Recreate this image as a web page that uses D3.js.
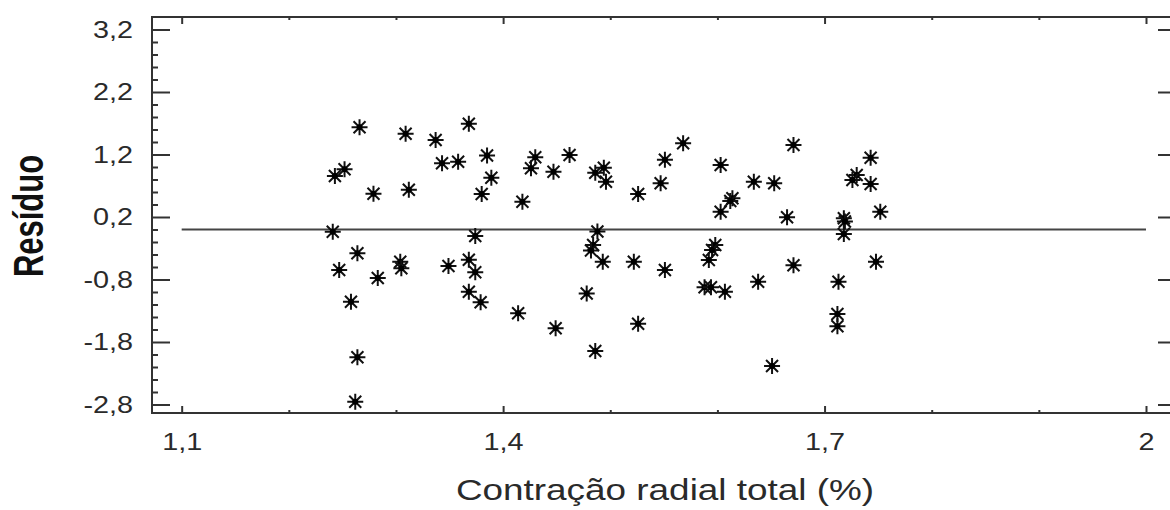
<!DOCTYPE html>
<html>
<head>
<meta charset="utf-8">
<script src="https://cdn.jsdelivr.net/npm/d3@7"></script>
<style>
  body { margin: 0; background: #fff; }
  text { font-family: "Liberation Sans", Arial, sans-serif; }
</style>
</head>
<body>
<div id="chart"></div>
<script>
// contração radial total (%) and resíduo
const contracao = [
  1.266, 1.309, 1.252, 1.243, 1.279, 1.312, 1.241, 1.264, 1.247, 1.304,
  1.305, 1.283, 1.258, 1.264, 1.262, 1.368, 1.337, 1.343, 1.358, 1.385,
  1.389, 1.380, 1.374, 1.349, 1.368, 1.374, 1.368, 1.379, 1.414, 1.430,
  1.426, 1.447, 1.462, 1.418, 1.449, 1.478, 1.486, 1.494, 1.496, 1.488,
  1.484, 1.482, 1.493, 1.486, 1.526, 1.547, 1.551, 1.568, 1.522, 1.551,
  1.526, 1.603, 1.634, 1.653, 1.671, 1.614, 1.612, 1.603, 1.665, 1.598,
  1.595, 1.592, 1.588, 1.594, 1.607, 1.638, 1.671, 1.651, 1.743, 1.730,
  1.726, 1.743, 1.752, 1.718, 1.719, 1.718, 1.748, 1.713, 1.712, 1.712
];
const residuo = [
  1.635, 1.533, 0.963, 0.856, 0.573, 0.637, -0.035, -0.381, -0.648, -0.515,
  -0.621, -0.776, -1.155, -2.045, -2.755, 1.693, 1.432, 1.059, 1.085, 1.184,
  0.829, 0.568, -0.104, -0.584, -0.483, -0.685, -0.995, -1.165, -1.341, 1.155,
  0.979, 0.925, 1.192, 0.445, -1.581, -1.024, 0.909, 0.989, 0.765, -0.032,
  -0.248, -0.336, -0.515, -1.944, 0.568, 0.739, 1.117, 1.379, -0.515, -0.648,
  -1.507, 1.032, 0.765, 0.739, 1.352, 0.499, 0.456, 0.285, 0.195, -0.248,
  -0.328, -0.488, -0.925, -0.925, -0.995, -0.835, -0.573, -2.184, 1.149, 0.872,
  0.792, 0.728, 0.285, 0.179, 0.128, -0.072, -0.515, -0.835, -1.352, -1.549
];
const yTicks = [3.2, 2.2, 1.2, 0.2, -0.8, -1.8, -2.8];
const xTicks = [1.1, 1.4, 1.7, 2.0];
const xLabel = "Contração radial total (%)";
const yLabel = "Resíduo";

const width = 1170, height = 510;
const margin = { top: 17, right: -6, bottom: 97, left: 152 };
const stretch = 1.2; // the original text is a bit wide

const svg = d3.select("#chart").append("svg")
  .attr("width", width)
  .attr("height", height);

const x = d3.scaleLinear()
  .domain([1.0723, 2.028])
  .range([margin.left, width - margin.right]);
const y = d3.scaleLinear()
  .domain([-2.936, 3.4])
  .range([height - margin.bottom, margin.top]);

const pt = d3.formatLocale({ decimal: ",", thousands: ".", grouping: [3], currency: ["", ""], minus: "-" });
const fmt = pt.format("~f");

// minor ticks every 0.2 (y) and 0.1 (x)
const yMinor = d3.range(-2.8, 3.3, 0.2).map(v => +v.toFixed(1)).filter(v => !yTicks.includes(v));
const xMinor = d3.range(1.1, 2.01, 0.1).map(v => +v.toFixed(1)).filter(v => !xTicks.includes(v));

const ink = "#333";

function styleAxis(g) {
  g.select(".domain").remove();
  g.selectAll(".tick line").attr("stroke", ink).attr("stroke-width", 2);
  g.selectAll(".tick text")
    .attr("fill", "#2a2a2a")
    .style("font-size", "24px");
}

// left
svg.append("g")
  .attr("transform", `translate(${margin.left},0)`)
  .call(d3.axisLeft(y).tickValues(yTicks).tickSize(-18).tickPadding(19).tickFormat(fmt))
  .call(styleAxis)
  .call(g => g.selectAll(".tick text")
    .attr("x", -19 / stretch)
    .attr("transform", `scale(${stretch},1)`));
svg.append("g")
  .attr("transform", `translate(${margin.left},0)`)
  .call(d3.axisLeft(y).tickValues(yMinor).tickSize(-6).tickFormat(""))
  .call(styleAxis);

// right
svg.append("g")
  .attr("transform", `translate(${width - margin.right},0)`)
  .call(d3.axisRight(y).tickValues(yTicks).tickSize(-18).tickFormat(""))
  .call(styleAxis);
svg.append("g")
  .attr("transform", `translate(${width - margin.right},0)`)
  .call(d3.axisRight(y).tickValues(yMinor).tickSize(-6).tickFormat(""))
  .call(styleAxis);

// bottom
svg.append("g")
  .attr("transform", `translate(0,${height - margin.bottom})`)
  .call(d3.axisBottom(x).tickValues(xTicks).tickSize(-7).tickPadding(20).tickFormat(fmt))
  .call(styleAxis)
  .call(g => g.selectAll(".tick text").attr("transform", `scale(${stretch},1)`));
svg.append("g")
  .attr("transform", `translate(0,${height - margin.bottom})`)
  .call(d3.axisBottom(x).tickValues(xMinor).tickSize(-3).tickFormat(""))
  .call(styleAxis);

// top
svg.append("g")
  .attr("transform", `translate(0,${margin.top})`)
  .call(d3.axisTop(x).tickValues(xTicks).tickSize(-7).tickFormat(""))
  .call(styleAxis);
svg.append("g")
  .attr("transform", `translate(0,${margin.top})`)
  .call(d3.axisTop(x).tickValues(xMinor).tickSize(-3).tickFormat(""))
  .call(styleAxis);

// frame
svg.append("rect")
  .attr("x", x.range()[0])
  .attr("y", y.range()[1])
  .attr("width", x.range()[1] - x.range()[0])
  .attr("height", y.range()[0] - y.range()[1])
  .attr("fill", "none")
  .attr("stroke", ink)
  .attr("stroke-width", 2);

// zero line
svg.append("line")
  .attr("x1", x(1.1)).attr("x2", x(2.0))
  .attr("y1", y(0)).attr("y2", y(0))
  .attr("stroke", "#444")
  .attr("stroke-width", 2);

// asterisk markers
const star = "M-8,0H8M0,-8V8M-6,-6L6,6M-6,6L6,-6";
const pts = svg.append("g").selectAll("g")
  .data(contracao.map((c, i) => ({ c, r: residuo[i] })))
  .join("g")
  .attr("transform", d => `translate(${x(d.c)},${y(d.r)})`);
pts.append("path")
  .attr("d", star)
  .attr("stroke", "#111")
  .attr("stroke-width", 2)
  .attr("fill", "none");
pts.append("circle")
  .attr("r", 3)
  .attr("fill", "#000");

// axis titles
svg.append("text")
  .attr("transform", "translate(665,500) scale(1.23,1)")
  .attr("text-anchor", "middle")
  .attr("fill", "#2a2a2a")
  .style("font-size", "30px")
  .text(xLabel);

svg.append("text")
  .attr("transform", "translate(43,216) scale(1.35,1) rotate(-90)")
  .attr("text-anchor", "middle")
  .attr("fill", "#111")
  .style("font-size", "31px")
  .style("font-weight", "bold")
  .text(yLabel);
</script>
</body>
</html>
